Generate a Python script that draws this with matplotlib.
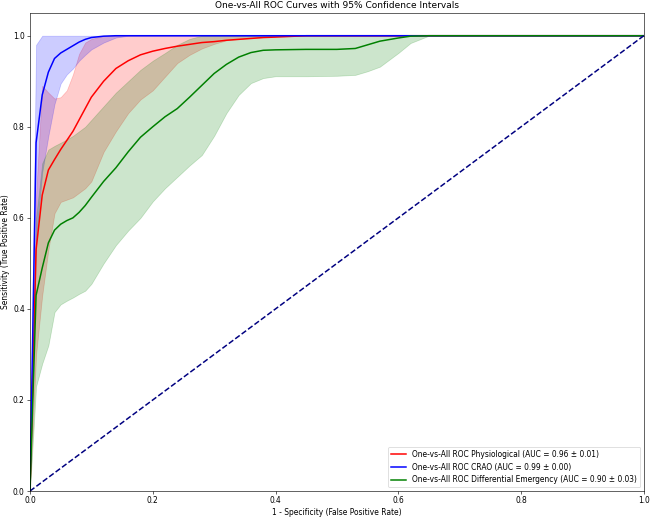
import numpy as np
import matplotlib.pyplot as plt

# false positive rate grid the curves were read on
fpr = [0, .01, .02, .03, .04, .05, .06, .07, .08, .09, .10, .12, .14, .16, .18,
       .20, .22, .24, .26, .28, .30, .32, .34, .36, .38, .40, .45, .50, .53,
       .55, .57, .60, .62, .65, .70, 1.0]

# Physiological
phys_mean = [0, .53, .65, .705, .728, .75, .77, .79, .815, .84, .865, .90, .928,
             .945, .958, .966, .972, .977, .981, .985, .987, .99, .992, .994,
             .996, .997, 1, 1, 1, 1, 1, 1, 1, 1, 1, 1]
phys_lower = [0, .30, .43, .53, .61, .635, .64, .645, .655, .665, .68, .745, .79,
              .83, .86, .88, .91, .94, .958, .972, .982, .99, .993, .995, .997,
              .999, 1, 1, 1, 1, 1, 1, 1, 1, 1, 1]
phys_upper = [0, .65, .89, .875, .862, .865, .88, .915, .96, .985, .993, 1, 1,
              1, 1, 1, 1, 1, 1, 1, 1, 1, 1, 1, 1, 1, 1, 1, 1, 1, 1, 1, 1, 1, 1, 1]

# CRAO
crao_mean = [0, .765, .87, .92, .95, .962, .97, .978, .986, .992, .996, .999, 1,
             1, 1, 1, 1, 1, 1, 1, 1, 1, 1, 1, 1, 1, 1, 1, 1, 1, 1, 1, 1, 1, 1, 1]
crao_lower = [0, .55, .70, .78, .85, .895, .915, .928, .945, .958, .97, .985, .996,
              1, 1, 1, 1, 1, 1, 1, 1, 1, 1, 1, 1, 1, 1, 1, 1, 1, 1, 1, 1, 1, 1, 1]
crao_upper = [0, .98, 1, 1, 1, 1, 1, 1, 1, 1, 1, 1, 1, 1, 1, 1, 1, 1, 1, 1, 1, 1,
              1, 1, 1, 1, 1, 1, 1, 1, 1, 1, 1, 1, 1, 1]

# Differential Emergency
diff_mean = [0, .43, .49, .545, .573, .586, .594, .60, .612, .627, .645, .68, .71,
             .745, .777, .80, .822, .84, .865, .891, .917, .937, .953, .963, .968,
             .969, .97, .97, .972, .98, .988, .995, .999, 1, 1, 1]
diff_lower = [0, .23, .28, .32, .393, .41, .418, .425, .433, .44, .455, .50, .54,
              .572, .60, .636, .665, .69, .715, .738, .78, .83, .87, .896, .907,
              .911, .911, .912, .914, .922, .932, .962, .984, 1, 1, 1]
diff_upper = [0, .60, .72, .75, .758, .765, .772, .78, .79, .80, .815, .845, .875,
              .90, .925, .945, .962, .98, .993, 1, 1, 1, 1, 1, 1, 1, 1, 1, 1, 1,
              1, 1, 1, 1, 1, 1]

classes = ['Physiological', 'CRAO', 'Differential Emergency']
auc_means = [0.96, 0.99, 0.90]
auc_stds = [0.01, 0.00, 0.03]
colors = ['red', 'blue', 'green']
means = [phys_mean, crao_mean, diff_mean]
lowers = [phys_lower, crao_lower, diff_lower]
uppers = [phys_upper, crao_upper, diff_upper]

DPI = 54.25
fig, ax = plt.subplots(figsize=(651 / DPI, 518 / DPI), dpi=DPI)
fig.subplots_adjust(left=0.046, right=0.989, bottom=0.052, top=0.975)

for name, col, m, lo, hi, a, s in zip(classes, colors, means, lowers, uppers,
                                      auc_means, auc_stds):
    ax.plot(fpr, m, color=col, lw=2,
            label=f'One-vs-All ROC {name} (AUC = {a:.2f} ± {s:.2f})')
    ax.fill_between(fpr, lo, hi, color=col, alpha=0.2)

ax.plot([0, 1], [0, 1], color='navy', lw=2, linestyle='--')
ax.set_xlim(0.0, 1.0)
ax.set_ylim(0.0, 1.05)
ax.set_xlabel('1 - Specificity (False Positive Rate)')
ax.set_ylabel('Sensitivity (True Positive Rate)')
ax.set_title('One-vs-All ROC Curves with 95% Confidence Intervals')
ax.legend(loc='lower right')

plt.savefig('out.png', dpi=DPI)
